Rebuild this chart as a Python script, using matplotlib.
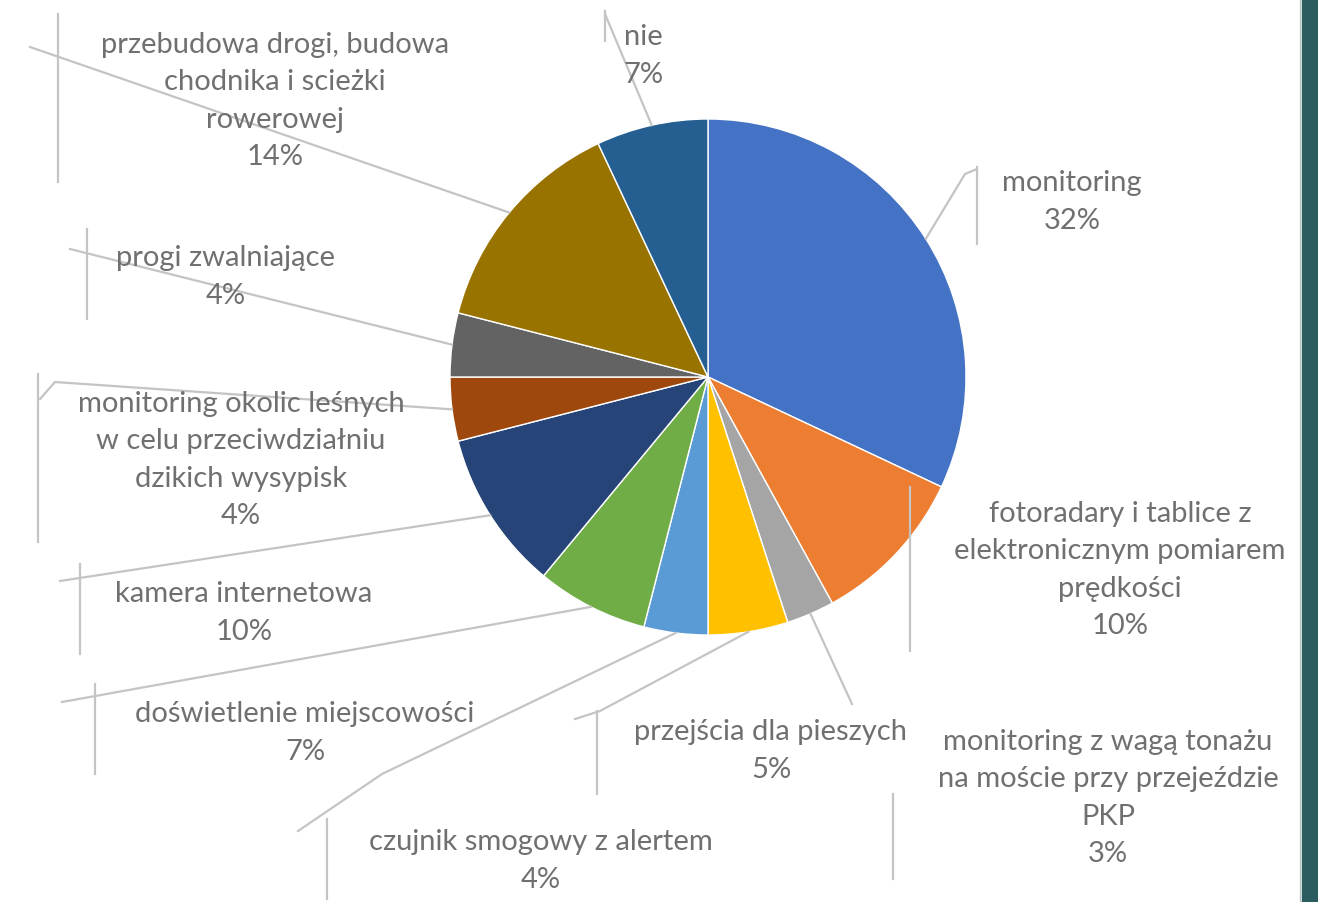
import numpy as np
import matplotlib
matplotlib.use("Agg")
import matplotlib.pyplot as plt

# ---- data ----
categories = [
    "monitoring",
    "fotoradary i tablice z\nelektronicznym pomiarem\nprędkości",
    "monitoring z wagą tonażu\nna moście przy przejeździe\nPKP",
    "przejścia dla pieszych",
    "czujnik smogowy z alertem",
    "doświetlenie miejscowości",
    "kamera internetowa",
    "monitoring okolic leśnych\nw celu przeciwdziałniu\ndzikich wysypisk",
    "progi zwalniające",
    "przebudowa drogi, budowa\nchodnika i scieżki\nrowerowej",
    "nie",
]
values = [32, 10, 3, 5, 4, 7, 10, 4, 4, 14, 7]
colors = ["#4472C4", "#ED7D31", "#A5A5A5", "#FFC000", "#5B9BD5", "#70AD47",
          "#264478", "#9E480E", "#636363", "#997300", "#255E91"]

W, H = 1318, 903
def P(x, y):
    return x, H - y

# label layout (pixel centres)
label_pos = [(1072, 202), (1120, 570), (1108, 798), (771, 751), (541, 861),
             (305, 733), (244, 613), (241, 460), (226, 277), (275, 101), (643, 56)]
# leader end points and vertical guide lines (layout only)
leader_end = [[(965, 175), (977, 170)], None, [(852, 705)],
              [(600, 712), (575, 720)], [(382, 775), (298, 832)],
              [(62, 703)], [(60, 582)], [(55, 383), (40, 400)],
              [(70, 250)], [(30, 48)], [(605, 15)]]
vlines = [(977, 168, 245), (910, 488, 652), (893, 795, 880), (597, 712, 795),
          (327, 820, 900), (95, 685, 775), (80, 565, 655), (38, 375, 543),
          (87, 230, 320), (58, 15, 183), (605, 12, 42)]

fig = plt.figure(figsize=(W / 100, H / 100), dpi=100)
ax = fig.add_axes([0, 0, 1, 1])

cx, cy = P(708, 378)
R = 258
wedges, _ = ax.pie(values, colors=colors, startangle=90, counterclock=False,
                   center=(cx, cy), radius=R,
                   wedgeprops=dict(edgecolor="white", linewidth=1.0))
ax.set_aspect("auto")
ax.set_xlim(0, W)
ax.set_ylim(0, H)
ax.axis("off")

lc = "#C4C4C4"
for i, w in enumerate(wedges):
    ang = np.deg2rad((w.theta1 + w.theta2) / 2)
    sx, sy = cx + R * np.cos(ang), cy + R * np.sin(ang)
    if leader_end[i] is not None:
        xs = [sx] + [P(*p)[0] for p in leader_end[i]]
        ys = [sy] + [P(*p)[1] for p in leader_end[i]]
        ax.plot(xs, ys, color=lc, lw=1.6, zorder=1)
    vx, vy0, vy1 = vlines[i]
    ax.plot([vx, vx], [H - vy0, H - vy1], color=lc, lw=1.6, zorder=1)

for i, (name, v) in enumerate(zip(categories, values)):
    x, y = P(*label_pos[i])
    ax.text(x, y, f"{name}\n{v}%", ha="center", va="center",
            multialignment="center", fontsize=21, color="#707070",
            family=["Lato", "DejaVu Sans"], linespacing=1.55, zorder=3)

# decorative teal bar at right edge
ax.axvspan(1302, W, color="#2B5C5F", zorder=0)
ax.axvline(1300, color="#B8C4C8", lw=1, zorder=0)

fig.savefig("out.png", dpi=100)
